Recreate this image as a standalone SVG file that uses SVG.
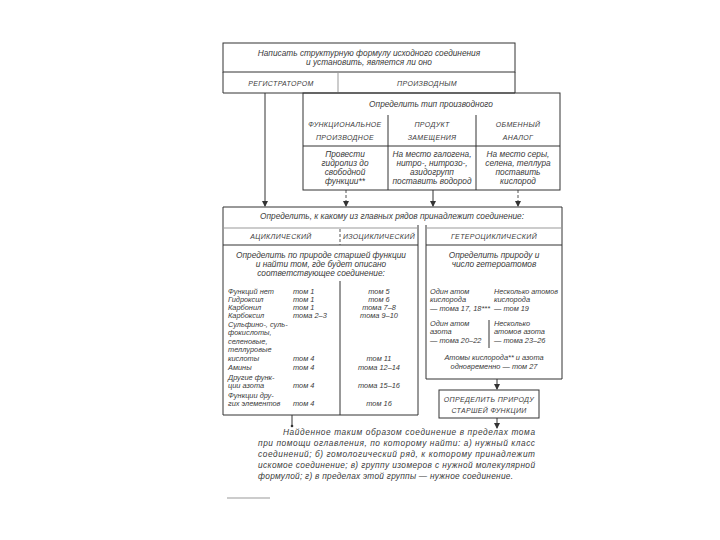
<svg xmlns="http://www.w3.org/2000/svg" width="720" height="540" viewBox="0 0 720 540">
<style>
.t{font-family:"Liberation Sans",Arial,sans-serif;font-style:italic;font-size:8.3px;fill:#3a3a3a}
.c{text-anchor:middle}
.h{font-size:7px;letter-spacing:0.35px}
.s{font-size:7.4px}
.ln{stroke:#333;stroke-width:1;fill:none}
.dl{stroke:#555;stroke-width:1;fill:none;stroke-dasharray:3 2}
.lt{stroke:#999;stroke-width:1;fill:none}
</style>
<defs>
<marker id="ah" markerWidth="6" markerHeight="6" refX="5" refY="3" orient="auto" markerUnits="userSpaceOnUse">
<path d="M0,0 L6,3 L0,6 Z" fill="#333"/>
</marker>
</defs>
<rect width="720" height="540" fill="#fff"/>

<g id="connectors">
<line class="ln" x1="265" y1="93" x2="265" y2="206" marker-end="url(#ah)"/>
<line class="dl" x1="346" y1="190" x2="346" y2="206" marker-end="url(#ah)"/>
<line class="ln" x1="433" y1="190" x2="433" y2="206" marker-end="url(#ah)"/>
<line class="dl" x1="518" y1="190" x2="518" y2="206" marker-end="url(#ah)"/>
<line class="ln" x1="497" y1="379" x2="497" y2="389" marker-end="url(#ah)"/>
<line class="ln" x1="497" y1="418" x2="497" y2="428" marker-end="url(#ah)"/>
<line class="ln" x1="292" y1="415" x2="292" y2="426"/>
<circle cx="292" cy="426" r="1.3" fill="#333"/>
</g>

<g id="start">
<rect class="ln" x="223" y="43" width="292" height="29"/>
<text class="t c" x="369" y="56">Написать структурную формулу исходного соединения</text>
<text class="t c" x="369" y="65">и установить, является ли оно</text>
<path class="ln" d="M223,72 V93 H515 V72"/>
<line class="lt" x1="338" y1="72" x2="338" y2="93"/>
<text class="t c h" x="281" y="86">РЕГИСТРАТОРОМ</text>
<text class="t c h" x="427" y="86">ПРОИЗВОДНЫМ</text>
</g>

<g id="derivative-type">
<rect class="ln" x="303" y="93" width="257" height="97"/>
<text class="t c" x="431" y="107">Определить тип производного</text>
<line class="ln" x1="388" y1="115" x2="388" y2="190"/>
<line class="ln" x1="476" y1="115" x2="476" y2="190"/>
<line class="ln" x1="303" y1="146" x2="560" y2="146"/>
<text class="t c h" x="345" y="127">ФУНКЦИОНАЛЬНОЕ</text>
<text class="t c h" x="345" y="140">ПРОИЗВОДНОЕ</text>
<text class="t c h" x="432" y="127">ПРОДУКТ</text>
<text class="t c h" x="432" y="140">ЗАМЕЩЕНИЯ</text>
<text class="t c h" x="518" y="127">ОБМЕННЫЙ</text>
<text class="t c h" x="518" y="140">АНАЛОГ</text>
<text class="t c" x="345" y="157">Провести</text>
<text class="t c" x="345" y="166">гидролиз до</text>
<text class="t c" x="345" y="175">свободной</text>
<text class="t c" x="345" y="184">функции**</text>
<text class="t c" x="432" y="157">На место галогена,</text>
<text class="t c" x="432" y="166">нитро-, нитрозо-,</text>
<text class="t c" x="432" y="175">азидогрупп</text>
<text class="t c" x="432" y="184">поставить водород</text>
<text class="t c" x="518" y="157">На место серы,</text>
<text class="t c" x="518" y="166">селена, теллура</text>
<text class="t c" x="518" y="175">поставить</text>
<text class="t c" x="518" y="184">кислород</text>
</g>

<g id="main-series">
<path class="ln" d="M223,207 H562 V379 H426 V225"/>
<path class="ln" d="M418,225 V415 H223 V207"/>
<text class="t c" x="392" y="219">Определить, к какому из главных рядов принадлежит соединение:</text>
<line class="lt" x1="223" y1="228" x2="418" y2="228"/>
<line class="lt" x1="426" y1="228" x2="562" y2="228"/>
<line class="ln" x1="223" y1="245" x2="418" y2="245"/>
<line class="ln" x1="426" y1="245" x2="562" y2="245"/>
<line class="dl" x1="340" y1="229" x2="340" y2="245"/>
<text class="t c h" x="281" y="239">АЦИКЛИЧЕСКИЙ</text>
<text class="t c h" x="379" y="239">ИЗОЦИКЛИЧЕСКИЙ</text>
<text class="t c h" x="494" y="239">ГЕТЕРОЦИКЛИЧЕСКИЙ</text>
</g>

<g id="acyclic-isocyclic">
<text class="t c" x="321" y="258">Определить по природе старшей функции</text>
<text class="t c" x="321" y="267">и найти том, где будет описано</text>
<text class="t c" x="321" y="276">соответствующее соединение:</text>
<line class="ln" x1="340" y1="281" x2="340" y2="415"/>
<g class="t s">
<text x="228" y="294">Функций нет</text><text x="293" y="294">том 1</text><text class="c" x="379" y="294">том 5</text>
<text x="228" y="302">Гидроксил</text><text x="293" y="302">том 1</text><text class="c" x="379" y="302">том 6</text>
<text x="228" y="310">Карбонил</text><text x="293" y="310">том 1</text><text class="c" x="379" y="310">тома 7–8</text>
<text x="228" y="318">Карбоксил</text><text x="293" y="318">тома 2–3</text><text class="c" x="379" y="318">тома 9–10</text>
<text x="228" y="327">Сульфино-, суль-</text>
<text x="228" y="335">фокислоты,</text>
<text x="228" y="344">селеновые,</text>
<text x="228" y="352">теллуровые</text>
<text x="228" y="361">кислоты</text><text x="293" y="361">том 4</text><text class="c" x="379" y="361">том 11</text>
<text x="228" y="370">Амины</text><text x="293" y="370">том 4</text><text class="c" x="379" y="370">тома 12–14</text>
<text x="228" y="380">Другие функ-</text>
<text x="228" y="388">ции азота</text><text x="293" y="388">том 4</text><text class="c" x="379" y="388">тома 15–16</text>
<text x="228" y="398">Функции дру-</text>
<text x="228" y="406">гих элементов</text><text x="293" y="406">том 4</text><text class="c" x="379" y="406">том 16</text>
</g>
</g>

<g id="heterocyclic">
<text class="t c" x="494" y="258">Определить природу и</text>
<text class="t c" x="494" y="267">число гетероатомов</text>
<g class="t s">
<text x="430" y="294">Один атом</text>
<text x="430" y="302">кислорода</text>
<text x="430" y="311">— тома 17, 18***</text>
<text x="494" y="294" textLength="64" lengthAdjust="spacingAndGlyphs">Несколько атомов</text>
<text x="494" y="302">кислорода</text>
<text x="494" y="311">— том 19</text>
<text x="430" y="326">Один атом</text>
<text x="430" y="334">азота</text>
<text x="430" y="343">— тома 20–22</text>
<text x="494" y="326">Несколько</text>
<text x="494" y="334">атомов азота</text>
<text x="494" y="343">— тома 23–26</text>
<text class="c" x="494" y="360">Атомы кислорода** и азота</text>
<text class="c" x="494" y="369">одновременно — том 27</text>
</g>
<line class="ln" x1="489" y1="320" x2="489" y2="348"/>
</g>

<g id="senior-function">
<rect class="ln" x="439" y="390" width="100" height="28"/>
<text class="t c h" x="489" y="402">ОПРЕДЕЛИТЬ ПРИРОДУ</text>
<text class="t c h" x="489" y="413">СТАРШЕЙ ФУНКЦИИ</text>
</g>

<g id="final-step" class="t">
<text x="283" y="435" textLength="252" lengthAdjust="spacing">Найденное таким образом соединение в пределах тома</text>
<text x="258" y="446" textLength="277" lengthAdjust="spacing">при помощи оглавления, по которому найти: а) нужный класс</text>
<text x="258" y="457" textLength="277" lengthAdjust="spacing">соединений; б) гомологический ряд, к которому принадлежит</text>
<text x="258" y="468" textLength="277" lengthAdjust="spacing">искомое соединение; в) группу изомеров с нужной молекулярной</text>
<text x="258" y="479" textLength="255" lengthAdjust="spacing">формулой; г) в пределах этой группы — нужное соединение.</text>
</g>
<line class="lt" x1="227" y1="498" x2="270" y2="498"/>
</svg>
